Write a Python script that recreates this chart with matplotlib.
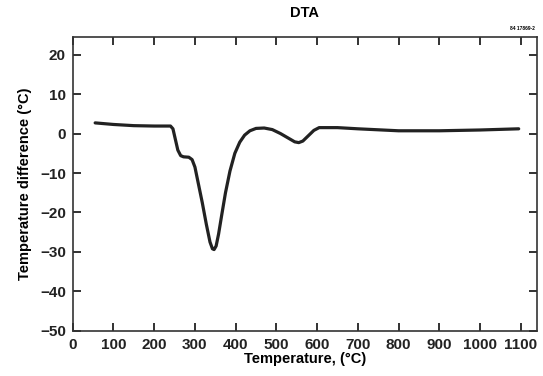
import matplotlib.pyplot as plt

plt.rcParams["font.family"] = ["Liberation Sans", "DejaVu Sans"]
plt.rcParams["font.weight"] = "bold"

# DTA trace
temperature = [55, 100, 150, 200, 240, 246, 252, 258, 265, 272, 285, 293, 300,
               308, 318, 328, 337, 343, 347, 352, 358, 366, 375, 386, 398,
               410, 422, 435, 450, 470, 490, 510, 530, 545, 555, 565, 578,
               592, 605, 650, 700, 800, 900, 1000, 1095]
delta_t = [2.7, 2.3, 2.0, 1.9, 1.9, 1.2, -1.5, -4.2, -5.6, -5.9, -6.0, -6.6,
           -8.5, -12.5, -17.5, -23.0, -27.5, -29.2, -29.4, -28.5, -25.5, -20.5,
           -15.0, -9.5, -5.0, -2.2, -0.4, 0.7, 1.3, 1.4, 1.0, 0.0, -1.2, -2.1,
           -2.3, -1.9, -0.6, 0.8, 1.5, 1.5, 1.2, 0.7, 0.7, 0.9, 1.2]

x_ticks = list(range(0, 1101, 100))
y_ticks = [-50, -40, -30, -20, -10, 0, 10, 20]

fig = plt.figure(figsize=(5.43, 3.76), dpi=100)
ax = fig.add_axes([0.134, 0.120, 0.855, 0.782])

ax.plot(temperature, delta_t, color="#222222", lw=2.3, solid_capstyle="round")

ax.set_xlim(0, 1140)
ax.set_ylim(-50, 24.5)
ax.set_xticks(x_ticks)
ax.set_yticks(y_ticks)
ax.set_yticklabels(["\u221250", "\u221240", "\u221230", "\u221220", "\u221210", "0", "10", "20"])
ax.tick_params(direction="in", length=6, width=1.3, top=True, right=True,
               labelsize=11, pad=5, colors="#222222")
for lbl in ax.get_xticklabels() + ax.get_yticklabels():
    lbl.set_fontweight("bold")
for sp in ax.spines.values():
    sp.set_linewidth(1.2)
    sp.set_color("#333333")

ax.set_xlabel("Temperature, (°C)", fontsize=10.5, fontweight="bold", labelpad=0)
ax.set_ylabel("Temperature difference (°C)", fontsize=10.5, fontweight="bold", labelpad=6)
ax.set_title("DTA", fontsize=10.5, fontweight="bold", pad=14)
fig.text(0.985, 0.925, "84 17869-2", fontsize=3.5, fontweight="bold", ha="right", va="center")

fig.savefig("out.png", dpi=100, facecolor="white")
